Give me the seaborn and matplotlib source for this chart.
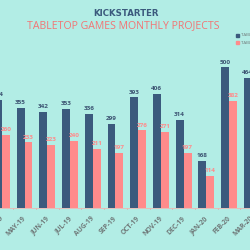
import matplotlib
matplotlib.use("Agg")
import matplotlib.pyplot as plt
import seaborn as sns
import pandas as pd
import numpy as np

months = ["APR-19", "MAY-19", "JUN-19", "JUL-19", "AUG-19", "SEP-19", "OCT-19",
          "NOV-19", "DEC-19", "JAN-20", "FEB-20", "MAR-20"]
launched = [384, 355, 342, 353, 336, 299, 393, 406, 314, 168, 500, 464]
funded = [260, 233, 223, 240, 211, 197, 276, 271, 197, 114, 382, np.nan]
series_names = ["TABLETOP GAMES LAUNCHED", "TABLETOP GAMES FUNDED"]

BG = "#B2EDE5"
NAVY = "#3B5A7D"
PINK = "#FF8B8B"
GRAY = "#6F7878"

df = pd.DataFrame({
    "month": months * 2,
    "value": launched + funded,
    "series": [series_names[0]] * len(months) + [series_names[1]] * len(months),
})

sns.set_style("white")
plt.rcParams["font.family"] = ["Open Sans", "DejaVu Sans"]

fig = plt.figure(figsize=(2.5, 2.5), dpi=100, facecolor=BG)
ax = fig.add_axes([0, 42 / 250, 1, 153 / 250])
ax.set_facecolor(BG)

sns.barplot(data=df, x="month", y="value", hue="series", order=months,
            hue_order=series_names, palette=[NAVY, PINK], width=0.7,
            ax=ax, legend=False, saturation=1, linewidth=0)

ax.set_xlim(0.035, 10.905)
ax.set_ylim(0, 544)
for s in ax.spines.values():
    s.set_visible(False)
ax.spines["bottom"].set_visible(True)
ax.spines["bottom"].set_color("#E9B9B5")
ax.spines["bottom"].set_linewidth(0.6)
ax.set_yticks([])
ax.set_xlabel("")
ax.set_ylabel("")
ax.set_xticks(np.arange(len(months)) - 0.08)
ax.set_xticklabels(months, rotation=45, ha="right", rotation_mode="anchor",
                   fontsize=4.9, color=GRAY, fontweight="bold")
ax.tick_params(axis="x", length=0, pad=5)
for i in range(len(months) + 1):
    ax.plot([i - 0.5, i - 0.5], [0, -5], color="#E9A5A0", lw=0.6, clip_on=False)

for c, col in zip(ax.containers, ["#3D5573", PINK]):
    for bar in c:
        h = bar.get_height()
        if np.isnan(h):
            continue
        ax.text(bar.get_x() + bar.get_width() / 2, h + 10, f"{int(h)}",
                ha="center", va="bottom", fontsize=4.6, fontweight="bold",
                color=col)

fig.text(0.502, 0.947, "KICKSTARTER", ha="center", va="center", fontsize=6.2,
         fontweight="heavy", color=NAVY, family=["DejaVu Sans"])
fig.text(0.494, 0.896, "TABLETOP GAMES MONTHLY PROJECTS", ha="center",
         va="center", fontsize=7.6, color="#F27474")

for yy, col, name in [(35, NAVY, series_names[0]), (43, PINK, series_names[1])]:
    fig.patches.append(plt.Rectangle((236 / 250, 1 - (yy + 1.5) / 250), 3 / 250, 3 / 250,
                                     transform=fig.transFigure, color=col))
    fig.text(241 / 250, 1 - yy / 250, name, ha="left", va="center",
             fontsize=3.2, color=GRAY)

fig.savefig("out.png", dpi=100, facecolor=BG)
